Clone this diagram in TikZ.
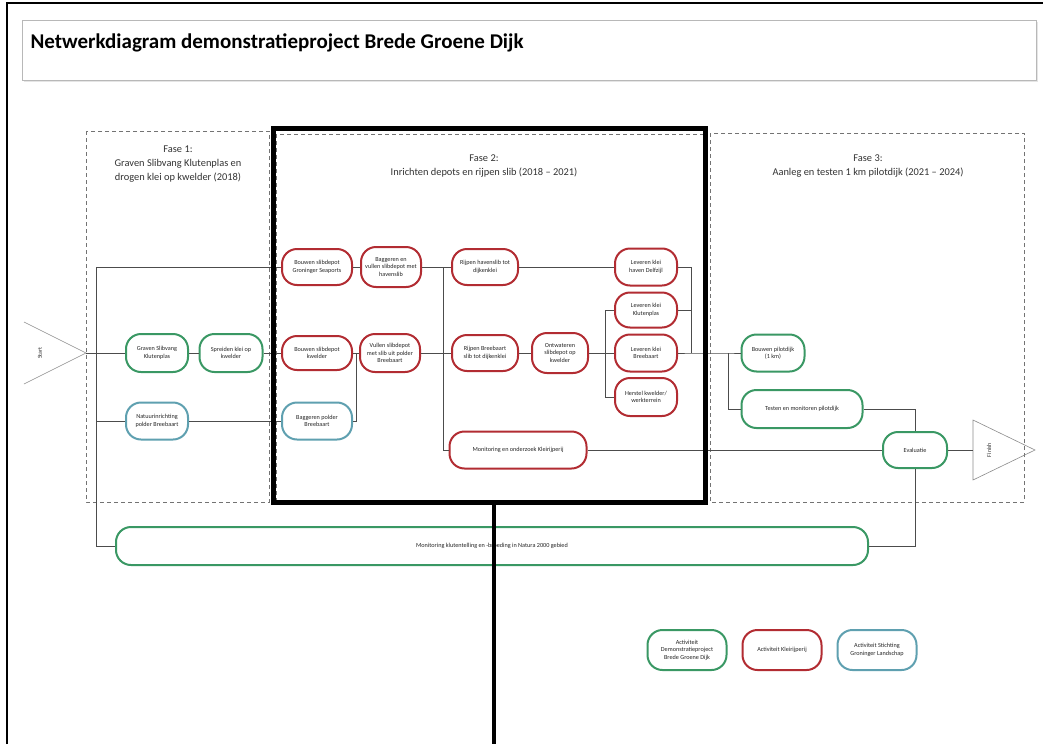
\documentclass[tikz,border=0pt]{standalone}
\usepackage{fontspec}
\setmainfont{Carlito}
\definecolor{actgreen}{RGB}{58,152,100}
\definecolor{actred}{RGB}{178,44,50}
\definecolor{actblue}{RGB}{95,160,176}
\begin{document}
\begin{tikzpicture}[x=1pt,y=-1pt,
  conn/.style={draw=black!70, line width=0.8pt},
  phasebox/.style={draw=black!55, line width=0.8pt, dash pattern=on 4pt off 3pt},
  phasetitle/.style={align=center, font=\fontsize{10.4}{14}\selectfont, text=black!80, inner sep=0pt},
  act/.style={draw, line width=2pt, rounded corners=15pt, align=center, inner sep=1pt, fill=white,
    font=\fontsize{6.2}{7.4}\selectfont, text=black!85},
  gact/.style={act, draw=actgreen},
  ract/.style={act, draw=actred},
  bact/.style={act, draw=actblue},
  endtri/.style={draw=black!45, line width=0.6pt},
  endlabel/.style={rotate=90, font=\fontsize{6}{7}\selectfont, text=black!80, inner sep=0pt}
]
\useasboundingbox (0,0) rectangle (1043,744);
\fill[white] (0,0) rectangle (1043,744);

% page frame and title
\draw[line width=1.6pt] (7,744) -- (7,3) -- (1043,3);
\draw[black!10, line width=2pt] (24,81) -- (1037,81) -- (1037,22);
\node[draw=black!28, line width=0.8pt, minimum width=1014, minimum height=60, anchor=north west, inner sep=0pt] (titlebox) at (22,20) {};
\node[anchor=west, font=\fontsize{21}{25}\selectfont\bfseries] (title) at (27,43) {Netwerkdiagram demonstratieproject Brede Groene Dijk};

% phase frames
\draw[phasebox] (86,131) rectangle (269,502);
\draw[phasebox] (276,134) rectangle (703,502);
\draw[phasebox] (710,133) rectangle (1024,502);
\node[phasetitle] (f1) at (178,164) {Fase 1:\\Graven Slibvang Klutenplas en\\drogen klei op kwelder (2018)};
\node[phasetitle] (f2) at (484,166) {Fase 2:\\Inrichten depots en rijpen slib (2018 -- 2021)};
\node[phasetitle] (f3) at (868,166) {Fase 3:\\Aanleg en testen 1 km pilotdijk (2021 -- 2024)};

% start and finish
\coordinate (stip) at (86,353);
\draw[endtri] (24,322) -- (stip) -- (24,384);
\node[endlabel] (startlbl) at (40,353) {Start};
\coordinate (fin) at (973,450);
\draw[endtri] (973,420) -- (1035,450) -- (973,480) -- cycle;
\node[endlabel] (finlbl) at (989,450) {Finish};

% phase 1 activities
\node[gact, minimum width=62, minimum height=38] (graven) at (157,353) {Graven Slibvang\\Klutenplas};
\node[gact, minimum width=63, minimum height=38] (spreiden) at (231,353) {Spreiden klei op\\kwelder};
\node[bact, minimum width=62, minimum height=37] (natuur) at (157,421) {Natuurinrichting\\polder Breebaart};

% phase 2 activities
\node[ract, minimum width=70, minimum height=36] (bouwgs) at (317,267) {Bouwen slibdepot\\Groninger Seaports};
\node[ract, minimum width=60, minimum height=40] (bagghav) at (391,267) {Baggeren en\\vullen slibdepot met\\havenslib};
\node[ract, minimum width=66, minimum height=36] (rijph) at (485,267) {Rijpen havenslib tot\\dijkenklei};
\node[ract, minimum width=70, minimum height=34] (bouwk) at (317,353) {Bouwen slibdepot\\kwelder};
\node[ract, minimum width=60, minimum height=38] (vullen) at (390,353) {Vullen slibdepot\\met slib uit polder\\Breebaart};
\node[ract, minimum width=66, minimum height=36] (rijpb) at (485,353) {Rijpen Breebaart\\slib tot dijkenklei};
\node[bact, minimum width=70, minimum height=37] (baggp) at (317,421) {Baggeren polder\\Breebaart};
\node[ract, minimum width=56, minimum height=40] (ontw) at (560,353) {Ontwateren\\slibdepot op\\kwelder};
\node[ract, minimum width=62, minimum height=37] (levd) at (646,267) {Leveren klei\\haven Delfzijl};
\node[ract, minimum width=62, minimum height=35] (levk) at (646,310) {Leveren klei\\Klutenplas};
\node[ract, minimum width=62, minimum height=37] (levb) at (646,353) {Leveren klei\\Breebaart};
\node[ract, minimum width=62, minimum height=38] (herst) at (646,397) {Herstel kwelder/\\werkterrein};
\node[ract, minimum width=137, minimum height=37] (monk) at (518,450) {Monitoring en onderzoek Kleirijperij};

% phase 3 activities
\node[gact, minimum width=63, minimum height=37] (bouwp) at (773,353) {Bouwen pilotdijk\\(1 km)};
\node[gact, minimum width=121, minimum height=38] (testen) at (802,409) {Testen en monitoren pilotdijk};
\node[gact, minimum width=64, minimum height=36] (eval) at (915,450) {Evaluatie};

% monitoring across all phases
\node[gact, minimum width=752, minimum height=38] (monbig) at (492,546) {Monitoring klutentelling en -broeding in Natura 2000 gebied};

% legend
\node[gact, minimum width=79, minimum height=40] (lg) at (687,650) {Activiteit\\Demonstratieproject\\Brede Groene Dijk};
\node[ract, minimum width=79, minimum height=40] (lr) at (782,650) {Activiteit Kleirijperij};
\node[bact, minimum width=79, minimum height=40] (lb) at (877,650) {Activiteit Stichting\\Groninger Landschap};

% junction points
\coordinate (ja) at (96,267);
\coordinate (jb) at (96,546);
\coordinate (jc) at (443,267);
\coordinate (jd) at (443,450);
\coordinate (je) at (356,421);
\coordinate (jf1) at (605,310);
\coordinate (jf2) at (605,397);
\coordinate (jg) at (691,267);
\coordinate (jh) at (691,353);
\coordinate (ji) at (728,353);
\coordinate (jj) at (728,409);

% connectors
\draw[conn] (stip) -- (graven);
\draw[conn] (graven) -- (spreiden);
\draw[conn] (spreiden) -- (bouwk);
\draw[conn] (bouwgs) -- (ja) -- (jb) -- (monbig);
\draw[conn] (ja |- natuur) -- (natuur);
\draw[conn] (natuur) -- (baggp);
\draw[conn] (bouwgs) -- (bagghav);
\draw[conn] (bagghav) -- (jc) -- (jd) -- (monk);
\draw[conn] (jc) -- (rijph);
\draw[conn] (bouwk) -- (vullen);
\draw[conn] (vullen) -- (rijpb);
\draw[conn] (baggp) -- (je) -- (je |- vullen);
\draw[conn] (rijph) -- (levd);
\draw[conn] (rijpb) -- (ontw);
\draw[conn] (ontw) -- (jf1 |- ontw);
\draw[conn] (jf1) -- (jf2);
\draw[conn] (jf1) -- (levk);
\draw[conn] (jf1 |- levb) -- (levb);
\draw[conn] (jf2) -- (herst);
\draw[conn] (levd) -- (jg) -- (jh);
\draw[conn] (levk) -- (jg |- levk);
\draw[conn] (levb) -- (jh) -- (ji) -- (bouwp);
\draw[conn] (ji) -- (jj) -- (testen);
\draw[conn] (testen) -| (eval);
\draw[conn] (monk) -- (eval);
\draw[conn] (eval) -- (fin);
\draw[conn] (eval) |- (monbig);

% highlighted phase 2 frame with its pointer line
\node[draw=black, line width=5pt, minimum width=432, minimum height=374, inner sep=0pt] (focus) at (489,315) {};
\coordinate (drop) at (494,502);
\coordinate (dropend) at (494,744);
\draw[line width=4pt] (drop) -- (dropend);
\end{tikzpicture}
\end{document}
